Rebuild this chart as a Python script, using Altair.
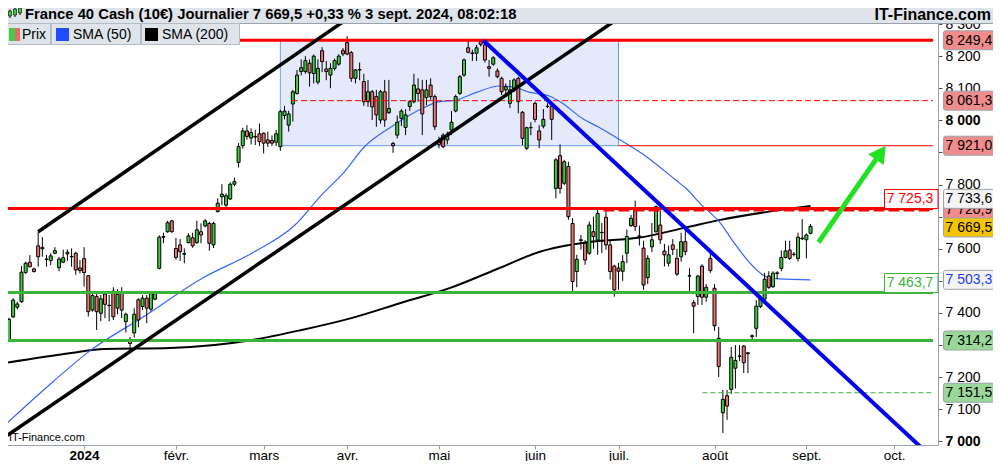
import altair as alt
import pandas as pd

FONT = "Liberation Sans"

# ---------------- candles (trading-day index 0..192, last = 3 Sept 2024) -------------
opens = [7316, 7388, 7418, 7435, 7526, 7558, 7537, 7609, 7600, 7567, 7563, 7586, 7541, 7558, 7584, 7575, 7586, 7540, 7569, 7516,
         7409, 7451, 7399, 7459, 7423, 7468, 7415, 7466, 7373, 7312, 7338, 7441, 7420, 7446, 7412, 7443, 7539, 7636, 7653, 7687,
         7601, 7612, 7583, 7619, 7634, 7619, 7653, 7671, 7679, 7612, 7716, 7762, 7736, 7755, 7801, 7869, 7921, 7967, 7945, 7950,
         7958, 7960, 7939, 7937, 7932, 7918, 8015, 7985, 8051, 8084, 8152, 8152, 8178, 8146, 8119, 8217, 8160, 8141, 8162, 8175,
         8217, 8242, 8211, 8131, 8158, 8121, 8058, 8089, 8074, 8001, 8089, 8024, 7928, 7954, 8006, 7978, 8043, 8058, 8098, 8095,
         8071, 8110, 8074, 7933, 7954, 7939, 7970, 8029, 8084, 8141, 8226, 8210, 8209, 8245, 8235, 8167, 8175, 8154, 8131, 8095,
         8053, 8095, 8131, 8025, 7913, 7978, 8053, 7967, 7982, 8044, 8043, 7788, 7890, 7804, 7856, 7679, 7529, 7628, 7617, 7586,
         7653, 7627, 7650, 7698, 7612, 7546, 7540, 7530, 7586, 7672, 7726, 7640, 7602, 7510, 7606, 7653, 7674, 7593, 7555, 7612,
         7570, 7575, 7622, 7516, 7432, 7451, 7546, 7449, 7570, 7477, 7321, 7089, 7142, 7162, 7228, 7266, 7297, 7276, 7327, 7352,
         7420, 7443, 7515, 7482, 7523, 7539, 7573, 7596, 7582, 7570, 7633, 7628, 7648]
highs = [7385, 7446, 7435, 7546, 7560, 7580, 7541, 7653, 7636, 7581, 7586, 7605, 7575, 7597, 7598, 7601, 7591, 7565, 7605, 7518,
         7461, 7459, 7456, 7468, 7456, 7480, 7474, 7480, 7401, 7325, 7415, 7446, 7456, 7456, 7468, 7468, 7642, 7650, 7687, 7690,
         7634, 7630, 7601, 7648, 7650, 7687, 7679, 7692, 7684, 7684, 7757, 7801, 7773, 7807, 7822, 7929, 7977, 7985, 7975, 7970,
         7990, 7962, 7965, 7953, 7970, 8033, 8045, 8030, 8095, 8157, 8190, 8200, 8190, 8205, 8190, 8228, 8185, 8178, 8192, 8206,
         8225, 8262, 8216, 8160, 8180, 8145, 8126, 8095, 8095, 8095, 8126, 8126, 7933, 8015, 8035, 8035, 8062, 8145, 8131, 8126,
         8126, 8131, 8080, 7949, 7960, 7965, 8029, 8080, 8141, 8193, 8254, 8220, 8235, 8249, 8240, 8188, 8200, 8162, 8136, 8115,
         8126, 8131, 8136, 8029, 7980, 7994, 8058, 7985, 8035, 8053, 8048, 7882, 7925, 7877, 7871, 7695, 7581, 7643, 7627, 7685,
         7700, 7730, 7680, 7718, 7627, 7550, 7556, 7580, 7660, 7705, 7750, 7672, 7625, 7580, 7680, 7735, 7720, 7615, 7610, 7630,
         7600, 7650, 7672, 7539, 7440, 7518, 7552, 7490, 7600, 7490, 7356, 7160, 7160, 7294, 7300, 7300, 7300, 7279, 7333, 7440,
         7455, 7525, 7530, 7530, 7530, 7595, 7625, 7625, 7590, 7650, 7692, 7648, 7677]
lows = [7314, 7384, 7411, 7432, 7521, 7542, 7526, 7544, 7575, 7544, 7549, 7583, 7530, 7555, 7562, 7544, 7519, 7523, 7482, 7389,
        7404, 7347, 7374, 7384, 7374, 7378, 7396, 7384, 7339, 7280, 7323, 7355, 7409, 7368, 7405, 7440, 7536, 7617, 7650, 7650,
        7566, 7562, 7555, 7617, 7603, 7615, 7617, 7667, 7594, 7602, 7713, 7736, 7723, 7752, 7795, 7853, 7912, 7940, 7925, 7923,
        7920, 7897, 7917, 7920, 7920, 7905, 8003, 7965, 7996, 8080, 8140, 8145, 8105, 8115, 8112, 8150, 8125, 8100, 8155, 8170,
        8200, 8203, 8120, 8115, 8125, 8045, 8042, 8001, 7980, 7990, 7980, 8020, 7899, 7944, 7982, 7954, 8029, 8053, 8058, 7954,
        8047, 8064, 7970, 7913, 7913, 7925, 7954, 8025, 8079, 8136, 8209, 8185, 8185, 8230, 8180, 8136, 8170, 8131, 8079, 8074,
        8038, 8089, 8022, 7923, 7908, 7954, 7994, 7913, 7975, 8038, 7939, 7757, 7772, 7798, 7690, 7466, 7480, 7597, 7550, 7581,
        7600, 7581, 7587, 7597, 7504, 7451, 7472, 7500, 7555, 7668, 7655, 7610, 7472, 7490, 7590, 7650, 7615, 7545, 7545, 7580,
        7515, 7560, 7580, 7466, 7337, 7425, 7425, 7435, 7525, 7345, 7200, 7026, 7067, 7148, 7165, 7250, 7213, 7213, 7315, 7325,
        7415, 7440, 7475, 7478, 7505, 7530, 7570, 7565, 7576, 7560, 7627, 7570, 7645]
closes = [7380, 7440, 7428, 7527, 7555, 7544, 7529, 7575, 7604, 7568, 7578, 7594, 7568, 7572, 7589, 7576, 7534, 7532, 7526, 7404,
          7454, 7404, 7444, 7427, 7424, 7388, 7458, 7409, 7396, 7305, 7396, 7378, 7446, 7415, 7462, 7462, 7636, 7638, 7681, 7653,
          7573, 7591, 7585, 7640, 7609, 7659, 7643, 7687, 7617, 7679, 7742, 7770, 7765, 7801, 7809, 7918, 7967, 7950, 7962, 7948,
          7934, 7929, 7929, 7929, 7958, 8027, 8029, 8020, 8089, 8141, 8164, 8186, 8148, 8200, 8162, 8183, 8152, 8162, 8186, 8200,
          8207, 8207, 8131, 8157, 8157, 8058, 8089, 8042, 8017, 8089, 8001, 8037, 7921, 7994, 8029, 8017, 8058, 8110, 8084, 8020,
          8095, 8074, 7980, 7925, 7918, 7950, 7994, 8074, 8136, 8188, 8212, 8208, 8226, 8237, 8188, 8162, 8195, 8136, 8089, 8105,
          8095, 8126, 8058, 7944, 7977, 7977, 8003, 7939, 8003, 8043, 8003, 7877, 7788, 7871, 7700, 7498, 7567, 7626, 7565, 7674,
          7638, 7710, 7651, 7612, 7529, 7472, 7530, 7560, 7638, 7695, 7669, 7638, 7487, 7570, 7628, 7731, 7628, 7581, 7581, 7598,
          7521, 7622, 7591, 7515, 7421, 7515, 7449, 7480, 7532, 7360, 7233, 7131, 7110, 7262, 7252, 7265, 7245, 7273, 7329, 7421,
          7447, 7505, 7480, 7524, 7525, 7573, 7593, 7570, 7583, 7636, 7631, 7643, 7669.5]

# ---------------- moving averages ----------------
sma50_i = [-0.95, 8.3, 19.7, 32.2, 46.4, 58.3, 68.5, 74.9, 80.3, 85.1, 91.5, 99.3, 102.6, 107.3, 112.1, 117.5, 121.6,
           124.6, 129.4, 132.5, 137.2, 141.2, 146.0, 153.1, 159.7, 162.6, 165.6, 170.4, 173.7, 178.4, 181.5, 184.6, 192]
sma50_v = [7051, 7160, 7285, 7388, 7509, 7587, 7674, 7768, 7839, 7917, 7979, 8039, 8057, 8064, 8088, 8107, 8101,
           8088, 8076, 8054, 8007, 7979, 7942, 7883, 7814, 7783, 7740, 7680, 7618, 7543, 7512, 7506, 7503.3]
sma200_i = [-0.95, 14.9, 22.7, 38.6, 58.3, 70.1, 82.0, 93.8, 105.7, 117.5, 127.0, 138.9, 150.7, 161.8, 170.4, 183.2, 192]
sma200_v = [7244, 7275, 7288, 7291, 7316, 7347, 7384, 7431, 7478, 7540, 7590, 7621, 7634, 7665, 7690, 7718, 7733.6]

# ---------------- axes ----------------
month_ticks = [18, 40, 61, 81, 103, 126, 146, 169, 191, 212]
month_labels = ["2024", "févr.", "mars", "avr.", "mai", "juin", "juil.", "août", "sept.", "oct."]
y_ticks = list(range(7000, 8301, 100))
y_hidden = [7300, 7500, 7700, 7900]   # labels covered by the price tags in the original

# ---------------- drawn objects ----------------
box_i = [65, 146]
box_v = [7921.0, 8249.4]
upper_channel_i = [7, 100]
upper_channel_v = [7653, 8486]
lower_channel_i = [-3, 160]
lower_channel_v = [6996, 8442]
down_trend_i = [113.6, 230]
down_trend_v = [8249.4, 6842]
arrow_i = [193.9, 208.3]
arrow_v = [7620, 7890]
arrow_tip_i = [210]
arrow_tip_v = [7921]

level_values = [8249.4, 8061.3, 7921.0, 7725.3, 7720.9, 7463.7, 7314.2, 7151.5]
level_starts = [-0.948, 67.8, 146, -0.948, 142.4, -0.948, -0.948, 166.1]

X_DOMAIN = [-0.948, 221.33]
Y_DOMAIN = [6988.7, 8374.9]
xs = alt.Scale(domain=X_DOMAIN, nice=False, zero=False)
ys = alt.Scale(domain=Y_DOMAIN, nice=False, zero=False)

GREEN = "#3dcc3d"
RED = "#ee7474"
LVL_GREEN = "#3cb43c"
GREY = "#98a2ac"


def fmt(v):
    return f"{v:,.1f}".replace(",", " ").replace(".", ",")


candles = pd.DataFrame({"i": list(range(len(closes))), "open": opens, "high": highs,
                        "low": lows, "close": closes})
candles["dir"] = ["up" if c >= o else "down" for o, c in zip(opens, closes)]

label_expr_x = ("[" + ",".join("'" + s + "'" for s in month_labels) + "][indexof(["
                + ",".join(str(t) for t in month_ticks) + "], datum.value)]")
label_expr_y = ("indexof([" + ",".join(str(t) for t in y_hidden) + "], datum.value) >= 0 ? '' : "
                "replace(format(datum.value, ','), ',', ' ')")

xaxis = alt.Axis(values=month_ticks, labelExpr=label_expr_x, title=None, grid=False, tickSize=4,
                 tickColor=GREY, domainColor=GREY, labelFontSize=13.5, labelFont=FONT, labelColor="black",
                 labelPadding=-1, labelFlush=False, labelOverlap=False,
                 labelFontWeight={"condition": {"test": "datum.value == 18", "value": "bold"}, "value": "normal"})
yaxis = alt.Axis(orient="right", values=y_ticks, labelExpr=label_expr_y,
                 title=None, grid=False, tickSize=4, tickColor="#555555", domainColor=GREY, labelFontSize=14,
                 labelFont=FONT, labelColor="black", labelPadding=3, labelOverlap=False,
                 labelFontWeight={"condition": {"test": "datum.value % 1000 == 0", "value": "bold"}, "value": "normal"})


def X(f):
    return alt.X(f, scale=xs, axis=xaxis)


def Y(f):
    return alt.Y(f, scale=ys, axis=yaxis)


layers = []

# blue rectangle
layers.append(alt.Chart(pd.DataFrame({"x0": [box_i[0]], "x1": [box_i[1]], "y0": [box_v[0]], "y1": [box_v[1]]}))
              .mark_rect(fill="#e4eafb", stroke="#6b9cf0", strokeWidth=1)
              .encode(x=X("x0:Q"), x2="x1:Q", y=Y("y0:Q"), y2="y1:Q"))

# moving averages
layers.append(alt.Chart(pd.DataFrame({"i": sma200_i, "v": sma200_v}))
              .mark_line(color="black", strokeWidth=2, interpolate="monotone", clip=True)
              .encode(x=X("i:Q"), y=Y("v:Q")))
layers.append(alt.Chart(pd.DataFrame({"i": sma50_i, "v": sma50_v}))
              .mark_line(color="#3366ff", strokeWidth=1.2, interpolate="monotone", clip=True)
              .encode(x=X("i:Q"), y=Y("v:Q")))

# candles
layers.append(alt.Chart(candles).mark_rule(color="black", strokeWidth=1)
              .encode(x=X("i:Q"), y=Y("low:Q"), y2="high:Q"))
layers.append(alt.Chart(candles).mark_bar(size=3, stroke="black", strokeWidth=1)
              .encode(x=X("i:Q"), y=Y("open:Q"), y2="close:Q",
                      color=alt.Color("dir:N", scale=alt.Scale(domain=["up", "down"], range=[GREEN, RED]),
                                      legend=None)))

# horizontal levels
level_styles = [("#ff0000", 3, None), ("#ff0000", 1, [6, 3]), ("#ff0000", 1, None), ("#ff0000", 3, None),
                ("#ff0000", 3, [11, 4]), (LVL_GREEN, 3, None), (LVL_GREEN, 3, None), (LVL_GREEN, 1, [5, 3])]
for v, s, (col, w, dash) in zip(level_values, level_starts, level_styles):
    kw = dict(color=col, strokeWidth=w)
    if dash:
        kw["strokeDash"] = dash
    layers.append(alt.Chart(pd.DataFrame({"v": [v], "x0": [s], "x1": [X_DOMAIN[1]]}))
                  .mark_rule(**kw)
                  .encode(x=X("x0:Q"), x2="x1:Q", y=Y("v:Q")))

# trend lines
for li, lv, col, w in [(upper_channel_i, upper_channel_v, "black", 3.5),
                       (lower_channel_i, lower_channel_v, "black", 3.5),
                       (down_trend_i, down_trend_v, "#0000ee", 4)]:
    layers.append(alt.Chart(pd.DataFrame({"i": li, "v": lv}))
                  .mark_line(color=col, strokeWidth=w, clip=True)
                  .encode(x=X("i:Q"), y=Y("v:Q")))

# green arrow
ARROW = "#22e022"
layers.append(alt.Chart(pd.DataFrame({"i": arrow_i, "v": arrow_v}))
              .mark_line(color=ARROW, strokeWidth=5)
              .encode(x=X("i:Q"), y=Y("v:Q")))
layers.append(alt.Chart(pd.DataFrame({"i": arrow_tip_i, "v": arrow_tip_v}))
              .mark_point(shape="M0,0L0.95,1.7L-0.95,1.7Z", filled=True, size=400, angle=35, color=ARROW, opacity=1)
              .encode(x=X("i:Q"), y=Y("v:Q")))

# in-plot tags
for v, col in [(7725.3, "#ff0000"), (7463.7, LVL_GREEN)]:
    d = pd.DataFrame({"v": [v], "label": [fmt(v)]})
    layers.append(alt.Chart(d).mark_rect(fill="white", stroke=col, strokeWidth=1, yOffset=-19, y2Offset=0)
                  .encode(x=alt.value(884.5), x2=alt.value(938), y=Y("v:Q"), y2="v:Q"))
    layers.append(alt.Chart(d).mark_text(align="center", baseline="middle", fontSize=14, font=FONT, color=col,
                                         yOffset=-9.5)
                  .encode(x=alt.value(910), y=Y("v:Q"), text="label:N"))

# axis price tags
tags = [(8249.4, "#f08c8c", "black", 0), (8061.3, "#f08c8c", "black", 0), (7921.0, "#f08c8c", "black", 0),
        (7720.9, "#f08c8c", "black", 0), (7733.6, "#f4f4f4", "black", -7), (7669.5, "#f5c400", "black", 1),
        (7503.3, "#f4f4f4", "#1a3cff", 0), (7314.2, "#9ad89a", "black", 0), (7151.5, "#9ad89a", "black", 0)]
for v, fill, tc, dy in tags:
    d = pd.DataFrame({"v": [v], "label": [fmt(v)]})
    layers.append(alt.Chart(d).mark_rect(fill=fill, stroke="#9aa3ac", strokeWidth=1, cornerRadius=2,
                                         yOffset=dy - 9.5, y2Offset=dy + 9.5)
                  .encode(x=alt.value(943.5), x2=alt.value(995), y=Y("v:Q"), y2="v:Q"))
    layers.append(alt.Chart(d).mark_text(align="left", baseline="middle", fontSize=14, font=FONT, color=tc,
                                         yOffset=dy + 0.5)
                  .encode(x=alt.value(945.5), y=Y("v:Q"), text="label:N"))

# ---------------- header, legend ----------------
one = pd.DataFrame({"a": [0]})
HEAD_BG = "#dfe4ea"


def prect(x0, x1, y0, y1, **kw):
    return alt.Chart(one).mark_rect(**kw).encode(x=alt.value(x0), x2=alt.value(x1), y=alt.value(y0), y2=alt.value(y1))


def ptext(x, y, s, **kw):
    return alt.Chart(one).mark_text(baseline="middle", font=FONT, color="black", **kw).encode(
        x=alt.value(x), y=alt.value(y), text=alt.value(s))


layers.append(prect(0, 1001, 0, 23, fill=HEAD_BG))
layers.append(alt.Chart(one).mark_rule(color=GREY).encode(x=alt.value(0), x2=alt.value(1001), y=alt.value(23.5)))
# small candle icon
for cx, y0, y1 in [(10, 11, 16), (15, 9, 15), (20, 8, 13)]:
    layers.append(alt.Chart(one).mark_rule(color="black").encode(x=alt.value(cx), y=alt.value(y0 - 1.5), y2=alt.value(y1 + 2)))
    layers.append(prect(cx - 1.5, cx + 1.5, y0, y1, fill=GREEN, stroke="black", strokeWidth=0.6))
layers.append(ptext(25, 14.5, "France 40 Cash (10€) Journalier 7 669,5 +0,33 % 3 sept. 2024, 08:02:18",
                    fontSize=14.8, fontWeight="bold", align="left"))
layers.append(ptext(991, 14.5, "IT-Finance.com", fontSize=16, fontWeight="bold", align="right"))

for x0, x1 in [(0, 50), (51, 140), (141, 239)]:
    layers.append(prect(x0 + 0.5, x1 + 0.5, 23.5, 44.5, fill=HEAD_BG, stroke="#b4bcc4", strokeWidth=1))
layers.append(prect(9, 15, 28, 41, fill="#44cc44"))
layers.append(prect(15, 20, 28, 41, fill="#e86a6a"))
layers.append(ptext(22, 35, "Prix", fontSize=14, align="left"))
layers.append(prect(56, 69, 28, 41, fill="#1e4cff"))
layers.append(ptext(73, 35, "SMA (50)", fontSize=14, align="left"))
layers.append(prect(145, 158, 28, 41, fill="black"))
layers.append(ptext(162, 35, "SMA (200)", fontSize=14, align="left"))

layers.append(ptext(9, 438, "IT-Finance.com", fontSize=11, align="left"))

chart = (alt.layer(*layers)
         .properties(width=938, height=445, background="white",
                     padding={"left": -8, "top": -8, "right": 55, "bottom": 16},
                     autosize=alt.AutoSizeParams(type="none"))
         .configure_view(stroke=None))

chart.save("out.html", embed_options={"renderer": "svg", "actions": False})
